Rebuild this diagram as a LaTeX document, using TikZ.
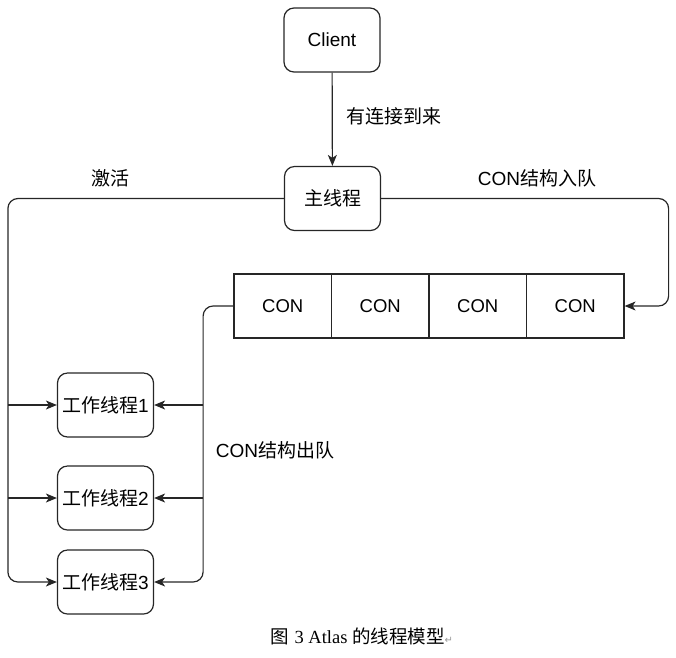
\documentclass[tikz,border=0pt]{standalone}
\usepackage{fontspec}
\setmainfont{Liberation Sans}
\newfontfamily\cjk{Noto Sans CJK SC}
\newfontfamily\serifl{Liberation Serif}
\newfontfamily\symf{DejaVu Sans}
\usetikzlibrary{arrows.meta}
\begin{document}
\begin{tikzpicture}[x=1pt,y=-1pt,
  box/.style={draw=black!85, line width=1.2pt, rounded corners=10pt, minimum width=96pt, minimum height=64pt, inner sep=0pt, font=\fontsize{19}{22}\selectfont},
  cell/.style={draw=black!85, line width=1.2pt, minimum width=97.5pt, minimum height=64pt, inner sep=0pt, font=\fontsize{18.5}{22}\selectfont},
  conn/.style={draw=black!85, line width=1.2pt, rounded corners=10pt, -{Stealth[length=11pt,width=9pt,inset=3pt]}},
  lbl/.style={font=\fontsize{19}{22}\selectfont, inner sep=0pt}
]
\useasboundingbox (0,0) rectangle (676,657);
\node[box] (client) at (332,40) {Client};
\node[box] (main) at (332.5,198.5) {\cjk 主线程};
\node[cell] (q1) at (282.75,306) {CON};
\node[cell] (q2) at (380.25,306) {CON};
\node[cell] (q3) at (477.75,306) {CON};
\node[cell] (q4) at (575.25,306) {CON};
\node[box] (w1) at (105.5,405) {{\cjk 工作线程}1};
\node[box] (w2) at (105.5,498) {{\cjk 工作线程}2};
\node[box] (w3) at (105.5,582) {{\cjk 工作线程}3};

\draw[conn] (client) -- (main);
\node[lbl] (l1) at (394,116) {\cjk 有连接到来};
\node[lbl] (l2) at (110,178) {\cjk 激活};
\node[lbl] (l3) at (537,178) {CON{\cjk 结构入队}};
\node[lbl] (l4) at (275,450) {CON{\cjk 结构出队}};

\coordinate (lx) at (8,0);
\coordinate (rx) at (203,0);
\draw[conn] (main.west) -| ([xshift=-49pt]w3.west) -- (w3.west);
\draw[conn] (w1.west -| lx) -- (w1.west);
\draw[conn] (w2.west -| lx) -- (w2.west);
\draw[conn] (main.east) -| ([xshift=44pt]q4.east) -- (q4.east);
\draw[conn] (q1.west) -| ([xshift=49pt]w3.east) -- (w3.east);
\draw[conn] (w1.east -| rx) -- (w1.east);
\draw[conn] (w2.east -| rx) -- (w2.east);

\node[inner sep=0pt, font=\fontsize{18.5}{20}\selectfont] (cap) at (362,636) {{\cjk 图} \serifl 3 Atlas {\cjk 的线程模型}{\symf\color{black!40}\fontsize{10}{10}\selectfont ↵}};
\end{tikzpicture}
\end{document}
